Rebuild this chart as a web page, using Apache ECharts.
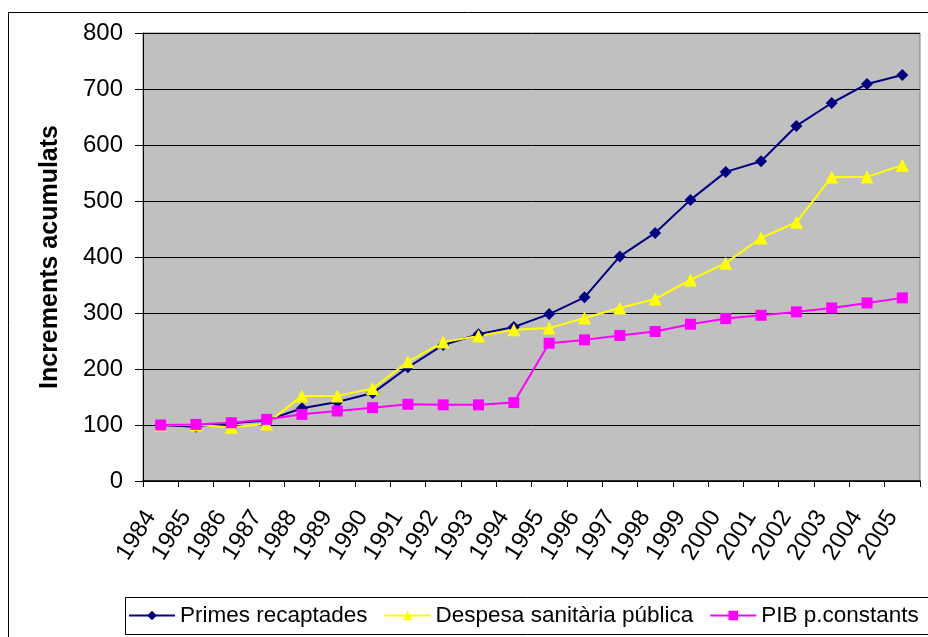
<html>
<head>
  <meta charset="utf-8">
  <title>Increments acumulats</title>
  <script src="https://cdn.jsdelivr.net/npm/echarts@6/dist/echarts.min.js"></script>
</head>
<body style="margin:0;background:#fff">
  <div id="main" style="width: 928px;height:637px;"></div>
  <script type="text/javascript">
    var years = ['1984','1985','1986','1987','1988','1989','1990','1991','1992','1993','1994',
                 '1995','1996','1997','1998','1999','2000','2001','2002','2003','2004','2005'];
    var primes = [100, 97, 103, 108, 130, 141, 157, 203, 243, 262, 275,
                  298, 328, 401, 443, 502, 552, 571, 634, 675, 709, 725];
    var despesa = [100, 100, 96, 102, 152, 152, 165, 213, 248, 259, 270,
                   273, 291, 309, 325, 359, 389, 434, 462, 543, 543, 564];
    var pib = [100, 101, 104, 110, 119, 125, 131, 137, 136, 136, 140,
               246, 252, 260, 267, 280, 290, 296, 302, 309, 318, 327];

    var myChart = echarts.init(document.getElementById('main'));
    var font = 'Liberation Sans, Arial, sans-serif';

    myChart.setOption({
      animation: false,
      textStyle: { fontFamily: font },
      graphic: [{
        // chart outer frame
        type: 'rect',
        shape: { x: 8.5, y: 12.5, width: 960, height: 700 },
        style: { fill: null, stroke: '#000', lineWidth: 1 },
        z: -10
      }, {
        // legend frame, runs off the right edge like the original
        type: 'rect',
        shape: { x: 125.5, y: 597.5, width: 900, height: 37 },
        style: { fill: '#fff', stroke: '#000', lineWidth: 1 },
        z: -5
      }],
      grid: {
        left: 143, top: 33, right: 8, bottom: 156,
        show: true, backgroundColor: '#C0C0C0', borderColor: '#808080', borderWidth: 1
      },
      legend: {
        left: 128, top: 604,
        itemGap: 16, itemWidth: 46, itemHeight: 12,
        padding: 0,
        textStyle: { fontSize: 22.5, color: '#000', fontFamily: font },
        data: ['Primes recaptades', 'Despesa sanitària pública', 'PIB p.constants']
      },
      xAxis: {
        type: 'category',
        data: years,
        boundaryGap: true,
        axisLine: { lineStyle: { color: '#000', width: 1.5 } },
        axisTick: { show: true, length: 6, lineStyle: { color: '#000' } },
        axisLabel: { rotate: 58, fontSize: 24, color: '#000', margin: 38,
                     verticalAlign: 'bottom', interval: 0 }
      },
      yAxis: {
        type: 'value',
        min: 0, max: 800, interval: 100,
        name: 'Increments acumulats',
        nameLocation: 'middle',
        nameGap: 80,
        nameTextStyle: { fontSize: 25, fontWeight: 'bold', color: '#000' },
        axisLine: { show: true, lineStyle: { color: '#000' } },
        axisTick: { show: true, length: 8, lineStyle: { color: '#000' } },
        axisLabel: { fontSize: 24, color: '#000', margin: 20 },
        splitLine: { lineStyle: { color: '#000', width: 1 } }
      },
      series: [{
        name: 'Primes recaptades',
        type: 'line',
        data: primes,
        symbol: 'diamond',
        symbolSize: 12,
        color: '#000080',
        lineStyle: { width: 2, color: '#000080' },
        itemStyle: { color: '#000080' }
      }, {
        name: 'Despesa sanitària pública',
        type: 'line',
        data: despesa,
        symbol: 'triangle',
        symbolSize: 13,
        color: '#FFFF00',
        lineStyle: { width: 2, color: '#FFFF00' },
        itemStyle: { color: '#FFFF00' }
      }, {
        name: 'PIB p.constants',
        type: 'line',
        data: pib,
        symbol: 'rect',
        symbolSize: 11,
        color: '#FF00FF',
        lineStyle: { width: 2, color: '#FF00FF' },
        itemStyle: { color: '#FF00FF' }
      }]
    });
  </script>
</body>
</html>
